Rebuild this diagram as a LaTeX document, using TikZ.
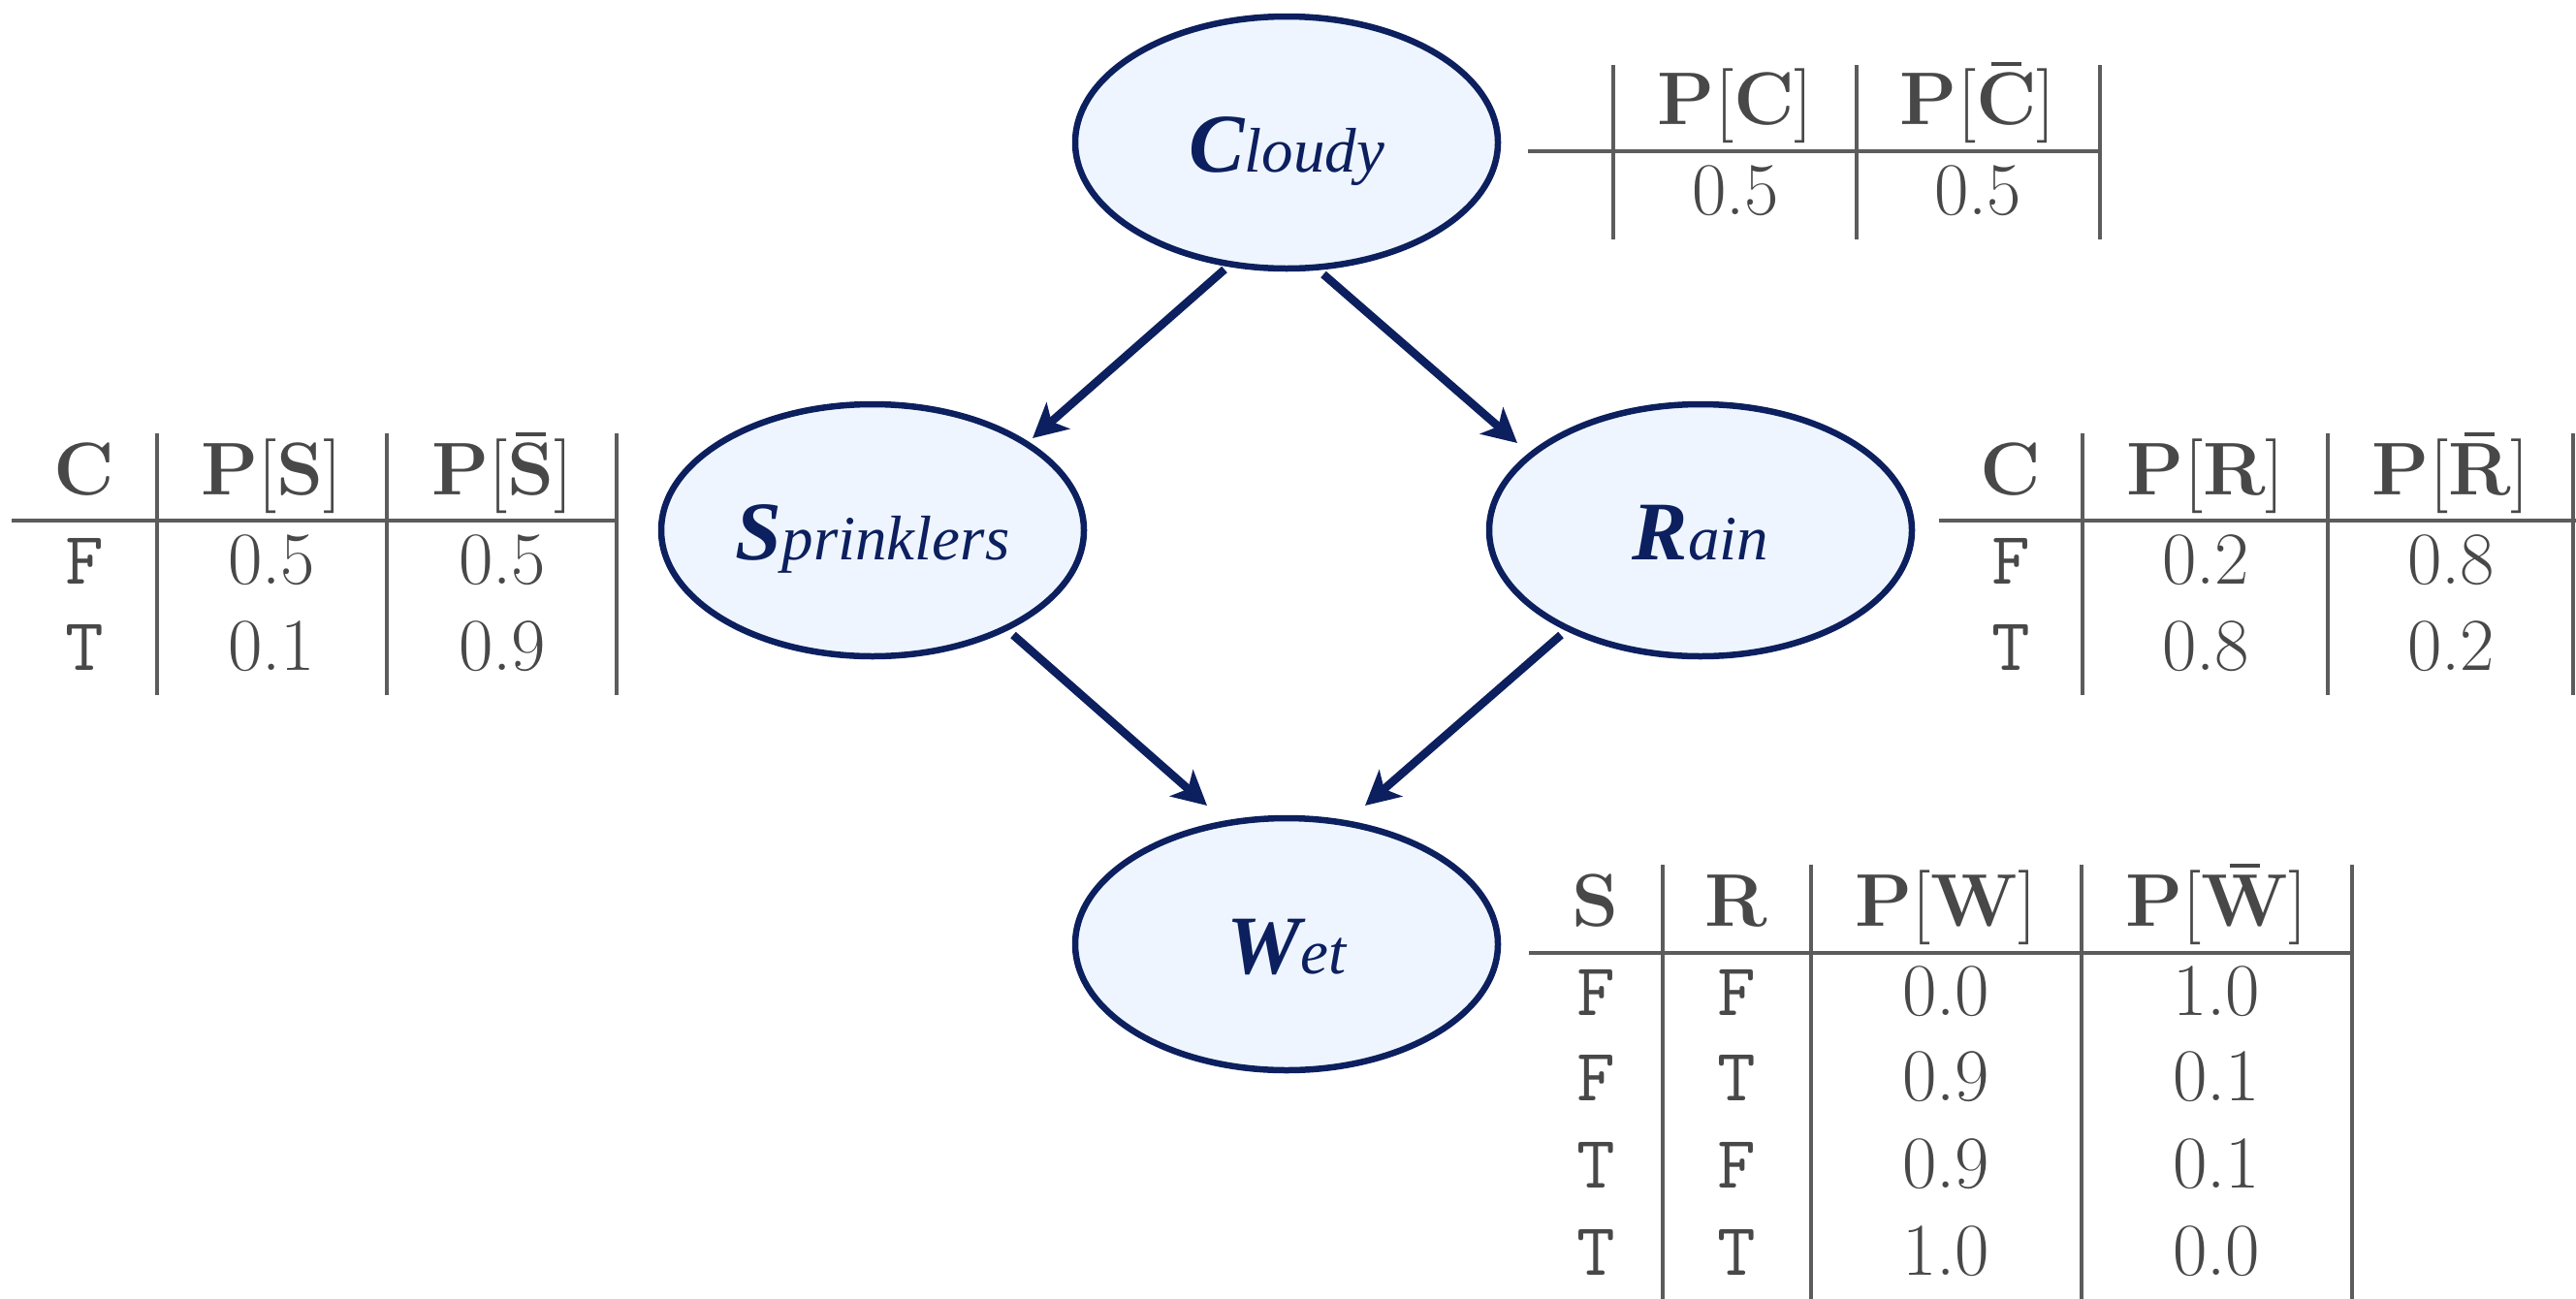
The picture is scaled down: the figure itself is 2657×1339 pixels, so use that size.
\documentclass[tikz,border=0pt]{standalone}
\usepackage{fontspec}
\setmainfont{Latin Modern Roman}
\setmonofont{Latin Modern Mono}
\newfontfamily\labelfont{Liberation Serif}
\usetikzlibrary{shapes.geometric,arrows.meta,calc}

\definecolor{navy}{RGB}{12,31,94}
\definecolor{nodefill}{RGB}{238,245,254}
\definecolor{tbltext}{RGB}{72,72,72}
\definecolor{tblrule}{RGB}{92,92,92}

% table text size and cell contents
\newcommand\tblsize{\fontsize{77}{92}\selectfont}
% letter with a short bar centred above it (complement)
\newcommand\barred[1]{\leavevmode\setbox0\hbox{#1}%
  \rlap{\hbox to\wd0{\hss\rule[60pt]{31pt}{4pt}\hss}}\box0}
\newcommand\prob[1]{\textbf{P}[\textbf{#1}]}
\newcommand\probnot[1]{\textbf{P}[\barred{\textbf{#1}}]}
% variable name: large bold initial, italic remainder
\newcommand\varname[2]{{\labelfont\fontsize{86}{100}\selectfont\bfseries\itshape #1}{\labelfont\fontsize{65}{78}\selectfont\itshape #2}}

\tikzset{
  var/.style={ellipse, draw=navy, line width=6.5pt, fill=nodefill,
    minimum width=436pt, minimum height=260pt, inner sep=0pt,
    text=navy, text height=60pt, text depth=0pt},
  link/.style={draw=navy, line width=8.5pt,
    -{Stealth[length=35pt,width=36pt,inset=9pt]}},
  cell/.style={anchor=base, inner sep=0pt, text=tbltext, font=\tblsize},
  rule/.style={draw=tblrule, line width=3.5pt}
}

\begin{document}
\begin{tikzpicture}[x=1pt, y=-1pt]
\useasboundingbox (0,0) rectangle (2657,1339);

% ---- Bayesian network ----
\node[var] (cloudy)     at (1327,147) {\varname{C}{loudy}};
\node[var] (sprinklers) at (900,547)  {\varname{S}{prinklers}};
\node[var] (rain)       at (1754,547) {\varname{R}{ain}};
\node[var] (wet)        at (1327,974) {\varname{W}{et}};

\draw[link] ($(cloudy.center)+(-64,131)$)     -- ($(sprinklers.center)+(165,-95)$);
\draw[link] ($(cloudy.center)+(38,136)$)      -- ($(rain.center)+(-189,-90)$);
\draw[link] ($(sprinklers.center)+(145,108)$) -- ($(wet.center)+(-82,-143)$);
\draw[link] ($(rain.center)+(-144,108)$)      -- ($(wet.center)+(81,-143)$);

% ---- table for Cloudy ----
\draw[rule] (1576,156) -- (2166,156);
\foreach \x in {1664,1915,2166} \draw[rule] (\x,67) -- (\x,247);
\node[cell] (ct-h1) at (1790,128) {\prob{C}};
\node[cell] (ct-h2) at (2040,128) {\probnot{C}};
\node[cell] (ct-v1) at (1790,221) {0.5};
\node[cell] (ct-v2) at (2040,221) {0.5};

% ---- table for Sprinklers ----
\draw[rule] (12,537) -- (636,537);
\foreach \x in {162,399,636} \draw[rule] (\x,447) -- (\x,717);
\node[cell] (st-h0) at (87,510)  {\textbf{C}};
\node[cell] (st-h1) at (280,510) {\prob{S}};
\node[cell] (st-h2) at (518,510) {\probnot{S}};
\foreach \y/\c/\a/\b [count=\i] in {602/F/0.5/0.5, 691/T/0.1/0.9} {
  \node[cell] (st-c\i) at (87,\y)  {\texttt{\c}};
  \node[cell] (st-a\i) at (280,\y) {\a};
  \node[cell] (st-b\i) at (518,\y) {\b};
}

% ---- table for Rain ----
\draw[rule] (2000,537) -- (2657,537);
\foreach \x in {2148,2401,2654} \draw[rule] (\x,447) -- (\x,717);
\node[cell] (rt-h0) at (2074,510) {\textbf{C}};
\node[cell] (rt-h1) at (2275,510) {\prob{R}};
\node[cell] (rt-h2) at (2528,510) {\probnot{R}};
\foreach \y/\c/\a/\b [count=\i] in {602/F/0.2/0.8, 691/T/0.8/0.2} {
  \node[cell] (rt-c\i) at (2074,\y) {\texttt{\c}};
  \node[cell] (rt-a\i) at (2275,\y) {\a};
  \node[cell] (rt-b\i) at (2528,\y) {\b};
}

% ---- table for Wet ----
\draw[rule] (1577,983) -- (2426,983);
\foreach \x in {1715,1868,2147,2426} \draw[rule] (\x,892) -- (\x,1341);
\node[cell] (wt-h0) at (1646,955) {\textbf{S}};
\node[cell] (wt-h1) at (1791,955) {\textbf{R}};
\node[cell] (wt-h2) at (2007,955) {\prob{W}};
\node[cell] (wt-h3) at (2286,955) {\probnot{W}};
\foreach \y/\s/\r/\a/\b [count=\i] in
    {1047/F/F/0.0/1.0, 1135/F/T/0.9/0.1, 1225/T/F/0.9/0.1, 1315/T/T/1.0/0.0} {
  \node[cell] (wt-s\i) at (1646,\y) {\texttt{\s}};
  \node[cell] (wt-r\i) at (1791,\y) {\texttt{\r}};
  \node[cell] (wt-a\i) at (2007,\y) {\a};
  \node[cell] (wt-b\i) at (2286,\y) {\b};
}
\end{tikzpicture}
\end{document}
